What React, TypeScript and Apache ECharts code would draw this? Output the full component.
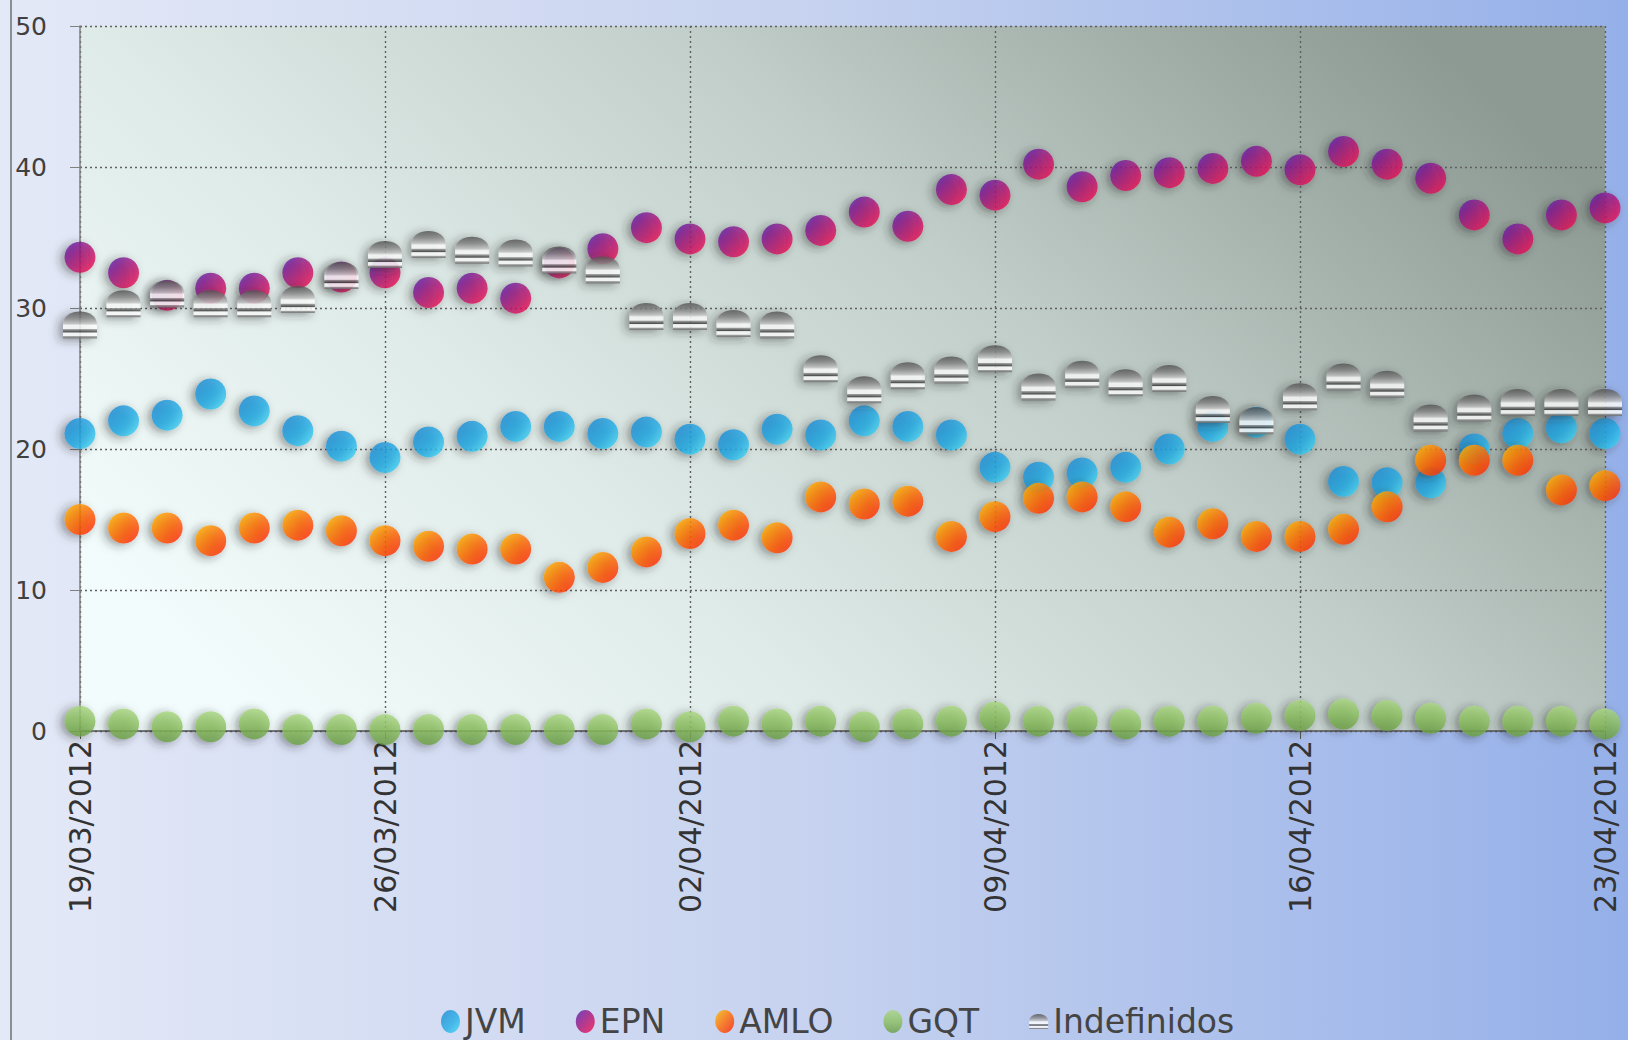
import React, { useEffect, useRef } from "react";
import * as echarts from "echarts";

const categories = [
  "19/03/2012", "20/03/2012", "21/03/2012", "22/03/2012", "23/03/2012", "24/03/2012", "25/03/2012",
  "26/03/2012", "27/03/2012", "28/03/2012", "29/03/2012", "30/03/2012", "31/03/2012", "01/04/2012",
  "02/04/2012", "03/04/2012", "04/04/2012", "05/04/2012", "06/04/2012", "07/04/2012", "08/04/2012",
  "09/04/2012", "10/04/2012", "11/04/2012", "12/04/2012", "13/04/2012", "14/04/2012", "15/04/2012",
  "16/04/2012", "17/04/2012", "18/04/2012", "19/04/2012", "20/04/2012", "21/04/2012", "22/04/2012",
  "23/04/2012",
];

const jvm = [
  21.1, 22.0, 22.4, 23.9, 22.7, 21.3, 20.2, 19.4, 20.5, 20.9, 21.6, 21.6, 21.1, 21.2, 20.7, 20.3,
  21.4, 21.0, 22.0, 21.6, 21.0, 18.7, 18.0, 18.3, 18.7, 20.0, 21.6, 21.9, 20.7, 17.7, 17.6, 17.6,
  20.0, 21.1, 21.5, 21.1,
];

const epn = [
  33.6, 32.5, 30.9, 31.4, 31.4, 32.5, 32.2, 32.5, 31.1, 31.4, 30.7, 33.2, 34.2, 35.7, 34.9, 34.7,
  34.9, 35.5, 36.8, 35.8, 38.4, 38.0, 40.2, 38.6, 39.4, 39.6, 39.9, 40.4, 39.8, 41.1, 40.2, 39.2,
  36.6, 34.9, 36.6, 37.1,
];

const amlo = [
  15.0, 14.4, 14.4, 13.5, 14.4, 14.6, 14.2, 13.5, 13.1, 12.9, 12.9, 10.9, 11.6, 12.7, 14.0, 14.6,
  13.7, 16.6, 16.1, 16.3, 13.8, 15.2, 16.5, 16.6, 15.9, 14.1, 14.7, 13.8, 13.8, 14.3, 15.9, 19.2,
  19.2, 19.2, 17.1, 17.4,
];

const gqt = [
  0.7, 0.5, 0.3, 0.3, 0.5, 0.1, 0.1, 0.1, 0.1, 0.1, 0.1, 0.1, 0.1, 0.5, 0.3, 0.7,
  0.5, 0.7, 0.3, 0.5, 0.7, 1.0, 0.7, 0.7, 0.5, 0.7, 0.7, 0.9, 1.1, 1.2, 1.1, 0.9,
  0.7, 0.7, 0.7, 0.5,
];

const indefinidos = [
  28.8, 30.3, 31.0, 30.3, 30.3, 30.6, 32.3, 33.8, 34.5, 34.1, 33.9, 33.4, 32.7, 29.4, 29.4, 28.9,
  28.8, 25.7, 24.2, 25.2, 25.6, 26.4, 24.4, 25.3, 24.7, 25.0, 22.8, 22.0, 23.7, 25.1, 24.6, 22.2,
  22.9, 23.3, 23.3, 23.3,
];

const yTicks = [0, 10, 20, 30, 40, 50];

const FONT = "'DejaVu Sans', sans-serif";

const ELLIPSE =
  "path://M10,0 C15.5,0 20,5.4 20,12 C20,18.6 15.5,24 10,24 C4.5,24 0,18.6 0,12 C0,5.4 4.5,0 10,0 Z";
const DOME = "path://M0,13 C0,-3 32,-3 32,13 L32,26 L0,26 Z";

const lin = (stops: [number, string][], x = 0, y = 0, x2 = 1, y2 = 1) =>
  new echarts.graphic.LinearGradient(
    x, y, x2, y2,
    stops.map(([offset, color]) => ({ offset, color }))
  );

const shadow = {
  shadowBlur: 10,
  shadowColor: "rgba(40,40,40,0.55)",
  shadowOffsetX: -4,
  shadowOffsetY: 2,
};

export default function App() {
  const ref = useRef<HTMLDivElement>(null);

  useEffect(() => {
    document.body.style.margin = "0";
    document.body.style.overflow = "hidden";
    if (!ref.current) return;
    const chart = echarts.init(ref.current, null, { renderer: "svg" });

    const sphere = (name: string, data: number[], color: any) => ({
      name,
      type: "scatter",
      data,
      symbol: "circle",
      symbolSize: 31,
      clip: false,
      itemStyle: { color, ...shadow },
    });

    chart.setOption({
      animation: false,
      backgroundColor: lin([[0, "#e4e9f7"], [0.5, "#c6d2ef"], [1, "#95b0e9"]], 0, 0, 1, 0),
      grid: {
        left: 80,
        right: 23,
        top: 26,
        bottom: 309,
        show: true,
        borderWidth: 0,
        backgroundColor: lin(
          [[0, "#f2fcfc"], [0.3, "#dfebe8"], [0.62, "#c1cec9"], [1, "#8d9993"]],
          0, 0.75, 1, 0.25
        ),
      },
      graphic: [
        {
          type: "line",
          shape: { x1: 11, y1: 0, x2: 11, y2: 1040 },
          style: { stroke: "#6f6f6f", lineWidth: 1.5 },
          silent: true,
        },
      ],
      legend: {
        left: 436,
        top: 1000,
        itemGap: 50,
        itemWidth: 19,
        itemHeight: 24,
        textStyle: { fontFamily: FONT, fontSize: 33, color: "#444" },
        data: [
          { name: "JVM", icon: ELLIPSE },
          { name: "EPN", icon: ELLIPSE },
          { name: "AMLO", icon: ELLIPSE },
          { name: "GQT", icon: ELLIPSE },
          { name: "Indefinidos", icon: DOME },
        ],
      },
      xAxis: {
        type: "category",
        data: categories,
        boundaryGap: false,
        axisLine: { show: true, lineStyle: { color: "#555", width: 1.5 } },
        axisTick: { show: true, interval: 6, length: 8, lineStyle: { color: "#555" } },
        axisLabel: {
          interval: 6,
          rotate: 90,
          margin: 9,
          fontFamily: FONT,
          fontSize: 30,
          color: "#333",
        },
        splitLine: {
          show: true,
          interval: 6,
          lineStyle: { color: "#5f5f5f", type: [2, 3], width: 1.4 },
        },
      },
      yAxis: {
        type: "value",
        min: yTicks[0],
        max: yTicks[yTicks.length - 1],
        interval: 10,
        axisLine: { show: true, lineStyle: { color: "#808080", width: 1.5 } },
        axisTick: { show: true, length: 10, lineStyle: { color: "#808080" } },
        axisLabel: {
          margin: 33,
          fontFamily: FONT,
          fontSize: 25,
          color: "#404040",
        },
        splitLine: {
          show: true,
          lineStyle: { color: "#5f5f5f", type: [2, 3], width: 1.4 },
        },
      },
      series: [
        sphere("JVM", jvm, lin([[0, "#1786d2"], [0.6, "#22aee6"], [1, "#45dcf6"]])),
        sphere("EPN", epn, lin([[0, "#5320b0"], [0.45, "#a3127c"], [1, "#ff1046"]])),
        sphere("AMLO", amlo, lin([[0, "#ffc000"], [0.5, "#ff6a00"], [1, "#ff1800"]])),
        sphere("GQT", gqt, lin([[0, "#a9d680"], [0.5, "#8cc060"], [1, "#6a9e44"]], 0, 0, 0, 1)),
        {
          name: "Indefinidos",
          type: "scatter",
          data: indefinidos,
          symbol: DOME,
          symbolSize: [34, 27],
          clip: false,
          itemStyle: {
            color: lin(
              [
                [0, "#505050"],
                [0.25, "#858585"],
                [0.45, "#c6c6c6"],
                [0.52, "#ffffff"],
                [0.64, "#ffffff"],
                [0.67, "#9a9a9a"],
                [0.76, "#404040"],
                [0.8, "#ffffff"],
                [0.9, "#ffffff"],
                [0.93, "#9a9a9a"],
                [1, "#666666"],
              ],
              0, 0, 0, 1
            ),
            ...shadow,
          },
        },
      ],
    });

    return () => chart.dispose();
  }, []);

  return <div ref={ref} style={{ width: 1628, height: 1040 }} />;
}
